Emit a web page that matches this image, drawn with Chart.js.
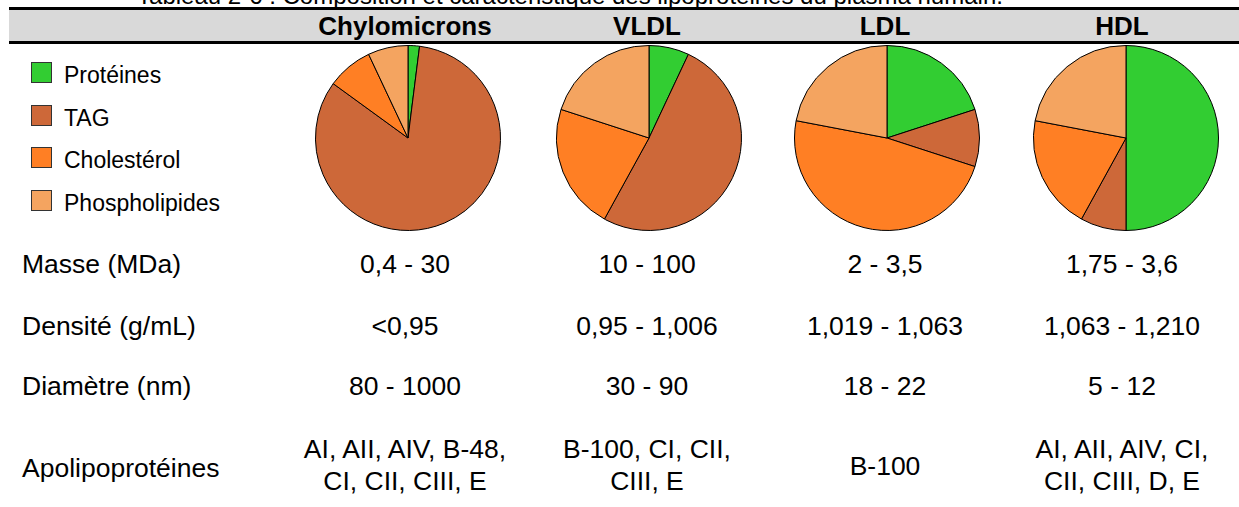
<!DOCTYPE html>
<html>
<head>
<meta charset="utf-8">
<script src="https://cdn.jsdelivr.net/npm/chart.js@4"></script>
<style>
  body { margin:0; width:1239px; height:507px; background:#fff; overflow:hidden; position:relative; font-family:"Liberation Sans", Arial, sans-serif; color:#000; }
  .abs { position:absolute; white-space:nowrap; }
  #bar { position:absolute; left:9px; right:0; top:7px; height:31px; background:#d9d9d9; border-top:3px solid #000; border-bottom:3px solid #000; }
  .hdr { font-weight:bold; font-size:26px; line-height:31px; top:11px; width:240px; text-align:center; }
  .row { font-size:26.5px; line-height:30px; }
  .cell { font-size:26.5px; line-height:32px; width:240px; text-align:center; }
  .leg { font-size:23px; line-height:21px; }
  .box { position:absolute; width:19px; height:19px; border:1px solid #333; }
  canvas { position:absolute; }
</style>
</head>
<body>
<div class="abs" id="title" style="left:0;width:1140px;text-align:center;top:-16px;font-size:24px;line-height:24px;">Tableau 2-6 : Composition et caractéristique des lipoprotéines du plasma humain.</div>
<div id="bar"></div>
<div id="root"></div>
<script>
var components = ['Protéines', 'TAG', 'Cholestérol', 'Phospholipides'];
var compColors = ['#32CD32', '#CD6839', '#FF7F24', '#F4A460'];
var lipoproteins = ['Chylomicrons', 'VLDL', 'LDL', 'HDL'];

// % composition (clockwise from 12 o'clock)
var chyloValues = [2, 83, 8, 7];
var vldlValues = [7, 51, 22, 20];
var ldlValues = [20, 10, 48, 22];
var hdlValues = [50, 8, 20, 22];

var rowLabels = ['Masse (MDa)', 'Densité (g/mL)', 'Diamètre (nm)', 'Apolipoprotéines'];
var masse = ['0,4 - 30', '10 - 100', '2 - 3,5', '1,75 - 3,6'];
var densite = ['<0,95', '0,95 - 1,006', '1,019 - 1,063', '1,063 - 1,210'];
var diametre = ['80 - 1000', '30 - 90', '18 - 22', '5 - 12'];
var apolipo = ['AI, AII, AIV, B-48,\nCI, CII, CIII, E', 'B-100, CI, CII,\nCIII, E', 'B-100', 'AI, AII, AIV, CI,\nCII, CIII, D, E'];

var colX = [405, 647, 885, 1122];
var pieX = [408, 649, 887, 1126];
var pieY = 138;
var root = document.getElementById('root');

function addDiv(cls, text, style){
  var d = document.createElement('div');
  d.className = 'abs ' + cls;
  d.textContent = text;
  Object.assign(d.style, style);
  root.appendChild(d);
  return d;
}

// header
lipoproteins.forEach(function(name, i){
  addDiv('hdr', name, {left: (colX[i]-120)+'px'});
});

// legend
components.forEach(function(c, i){
  var top = 62 + i*42.5;
  var b = document.createElement('div');
  b.className = 'box';
  b.style.left = '31px';
  b.style.top = top + 'px';
  b.style.background = compColors[i];
  root.appendChild(b);
  addDiv('leg', c, {left:'64px', top:(top+3)+'px'});
});

// text rows
var rowTops = [249, 311, 371];
[masse, densite, diametre].forEach(function(arr, r){
  addDiv('row', rowLabels[r], {left:'22px', top:rowTops[r]+'px'});
  arr.forEach(function(v, i){
    addDiv('cell', v, {left:(colX[i]-120)+'px', top:(rowTops[r]-1)+'px'});
  });
});
addDiv('row', rowLabels[3], {left:'22px', top:'453px'});
apolipo.forEach(function(v, i){
  var lines = v.split('\n');
  var top = lines.length == 2 ? 433 : 450;
  var d = addDiv('cell', '', {left:(colX[i]-120)+'px', top:top+'px'});
  d.innerHTML = lines.join('<br>');
});

function pieConfig(values){
  return {
    type: 'pie',
    data: {
      labels: components,
      datasets: [{
        data: values,
        backgroundColor: compColors,
        borderColor: '#000',
        borderWidth: 1,
        hoverOffset: 0
      }]
    },
    options: {
      responsive: false,
      animation: false,
      layout: { padding: 0 },
      plugins: {
        legend: { display: false },
        tooltip: { enabled: false }
      }
    }
  }
}

var allValues = [chyloValues, vldlValues, ldlValues, hdlValues];
allValues.forEach(function(vals, i){
  var cv = document.createElement('canvas');
  cv.width = 186;
  cv.height = 186;
  cv.style.left = (pieX[i]-93)+'px';
  cv.style.top = (pieY-93)+'px';
  root.appendChild(cv);
  new Chart(cv, pieConfig(vals));
});
</script>
</body>
</html>
